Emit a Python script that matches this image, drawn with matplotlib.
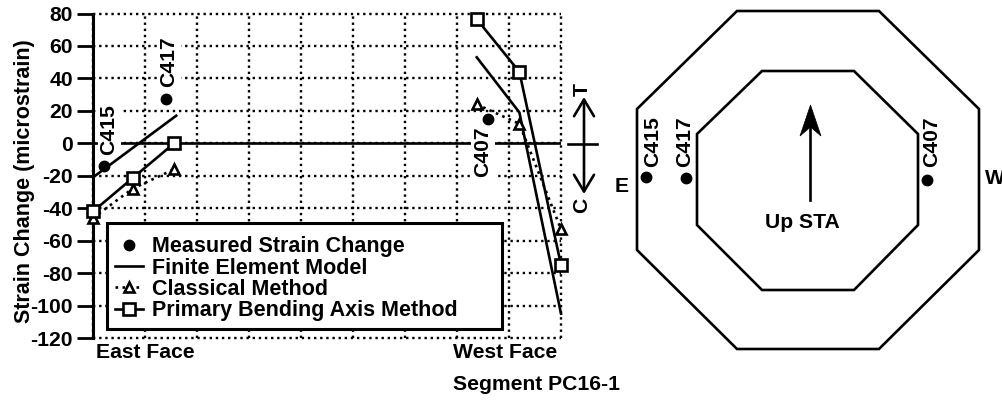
import matplotlib.pyplot as plt
from matplotlib.patches import Polygon, Rectangle

plt.rcParams['font.family'] = ['Liberation Sans', 'DejaVu Sans']
plt.rcParams['font.weight'] = 'bold'
plt.rcParams['axes.unicode_minus'] = False

# strain values, east face then west face
east_x = [0, 0.76, 1.56]
west_x = [7.38, 8.2, 9]
fe_east_x = [0, 1.6]
fe_east = [-21, 17]
fe_west = [53, 19, -105]
classical_east = [-46, -28, -16]
classical_west = [24, 12, -53]
primary_east = [-42, -21.5, 0]
primary_west = [76.5, 44, -75]
measured_x = [0.22, 1.4, 7.6]
measured = [-14, 27.5, 15]
y_ticks = [80, 60, 40, 20, 0, -20, -40, -60, -80, -100, -120]

# section sketch, in pixels of the picture
outer_x = [737, 879, 979, 979, 879, 737, 637, 637]
outer_y = [11, 11, 109, 250, 349, 349, 250, 109]
inner_x = [762, 854, 918, 918, 854, 762, 697, 697]
inner_y = [71, 71, 134, 225, 290, 290, 225, 134]
gauge_x = [646, 686, 927]
gauge_y = [177, 178, 180]

W, H = 1003, 401
FS = 15.2
LW = 1.9
fig = plt.figure(figsize=(W / 100, H / 100), dpi=100)
ax = fig.add_axes([93 / W, 1 - 338 / H, (561 - 93) / W, (338 - 13.5) / H])

ax.set_xlim(0, 9)
ax.set_ylim(-120, 80)
ax.set_xticks(range(10))
ax.set_xticklabels([])
ax.set_yticks(y_ticks)
ax.tick_params(axis='x', length=0)
ax.tick_params(axis='y', length=11.5, width=2, labelsize=FS, pad=3)
ax.grid(True, color='black', linestyle=(0, (1, 1.6)), linewidth=1.7, clip_on=False)
ax.set_axisbelow(True)
for s in ['top', 'right', 'bottom']:
    ax.spines[s].set_visible(False)
ax.spines['left'].set_linewidth(2.2)
ax.set_ylabel('Strain Change (microstrain)', fontsize=15.5, fontweight='bold')
ax.yaxis.set_label_coords(-0.125, 0.483)

ax.axhline(0, color='black', linewidth=LW, zorder=2)

box = dict(facecolor='white', edgecolor='none', pad=1.5)
ax.text(0.31, -7, 'C415', rotation=90, fontsize=FS, ha='center', va='bottom', bbox=box, zorder=2.5)
ax.text(1.46, 35, 'C417', rotation=90, fontsize=FS, ha='center', va='bottom', bbox=box, zorder=2.5)
ax.text(7.5, -21, 'C407', rotation=90, fontsize=FS, ha='center', va='bottom', bbox=box, zorder=2.5)

kw = dict(color='black', linewidth=LW, clip_on=False, zorder=3)
mk = dict(markerfacecolor='white', markeredgecolor='black', markeredgewidth=LW)
ax.plot(measured_x, measured, 'o', color='black', markersize=7.5, zorder=3, label='Measured Strain Change')
ax.plot(fe_east_x, fe_east, label='Finite Element Model', **kw)
ax.plot(west_x, fe_west, **kw)
ax.plot(east_x, classical_east, linestyle=':', marker='^', markersize=7.5, label='Classical Method', **mk, **kw)
ax.plot(west_x, classical_west, linestyle=':', marker='^', markersize=7.5, **mk, **kw)
ax.plot(east_x, primary_east, marker='s', markersize=8, label='Primary Bending Axis Method', **mk, **kw)
ax.plot(west_x, primary_west, marker='s', markersize=8, **mk, **kw)

ax.add_patch(Rectangle((0.27, -114.5), 7.6, 65.5, facecolor='white', edgecolor='black', linewidth=2.2, zorder=4))
leg = ax.legend(loc='upper left', bbox_to_anchor=(0.047, 0.314), frameon=False, fontsize=15.5,
                handlelength=1.3, handletextpad=0.43, labelspacing=0.02, borderpad=0, borderaxespad=0)
leg.set_zorder(5)

# everything else is placed in picture pixels
ov = fig.add_axes([0, 0, 1, 1], facecolor='none')
ov.set_xlim(0, W)
ov.set_ylim(H, 0)
ov.axis('off')

ov.text(96, 353, 'East Face', fontsize=FS, va='center', ha='left')
ov.text(453, 353, 'West Face', fontsize=FS, va='center', ha='left')
ov.text(453, 385, 'Segment PC16-1', fontsize=FS, va='center', ha='left')

ov.plot([568, 597], [143.5, 143.5], color='black', linewidth=LW)
ov.annotate('', xy=(584, 97), xytext=(584, 194),
            arrowprops=dict(arrowstyle='<->,head_length=0.5,head_width=0.3', color='black', linewidth=LW,
                            mutation_scale=24, shrinkA=0, shrinkB=0))
ov.text(582, 89, 'T', rotation=90, fontsize=FS, ha='center', va='center')
ov.text(582, 205, 'C', rotation=90, fontsize=FS, ha='center', va='center')

ov.add_patch(Polygon(list(zip(outer_x, outer_y)), closed=True, fill=False, edgecolor='black', linewidth=LW))
ov.add_patch(Polygon(list(zip(inner_x, inner_y)), closed=True, fill=False, edgecolor='black', linewidth=LW))
ov.plot(gauge_x, gauge_y, 'o', color='black', markersize=7.5)
ov.text(653, 167, 'C415', rotation=90, fontsize=FS, ha='center', va='bottom')
ov.text(685, 167, 'C417', rotation=90, fontsize=FS, ha='center', va='bottom')
ov.text(932, 167, 'C407', rotation=90, fontsize=FS, ha='center', va='bottom')
ov.text(622, 186, 'E', fontsize=FS, ha='center', va='center')
ov.text(985, 178, 'W', fontsize=FS, ha='left', va='center')
ov.text(802, 222, 'Up STA', fontsize=FS, ha='center', va='center')
ov.plot([810.5, 810.5], [125, 200], color='black', linewidth=LW)
ov.add_patch(Polygon([(810.5, 105), (800, 136), (810.5, 127), (821, 136)], closed=True, facecolor='black', edgecolor='black', linewidth=0.5))

fig.savefig('out.png', dpi=100)
